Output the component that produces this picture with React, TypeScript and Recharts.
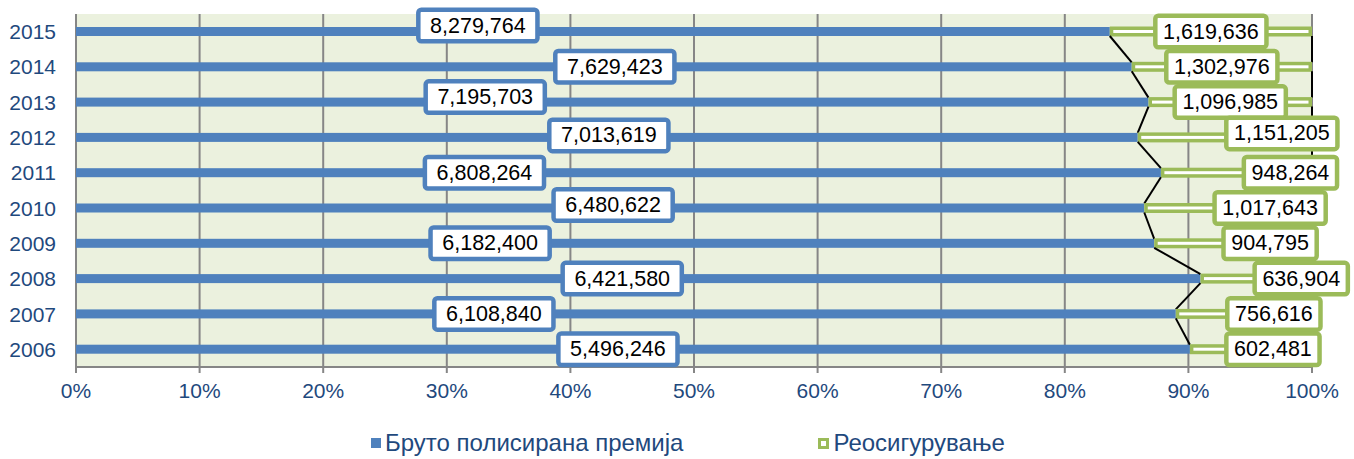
import React from 'react';
import { BarChart, Bar, XAxis, YAxis, CartesianGrid, LabelList } from 'recharts';

const years = ['2015', '2014', '2013', '2012', '2011', '2010', '2009', '2008', '2007', '2006'];
const premium = [8279764, 7629423, 7195703, 7013619, 6808264, 6480622, 6182400, 6421580, 6108840, 5496246];
const reinsurance = [1619636, 1302976, 1096985, 1151205, 948264, 1017643, 904795, 636904, 756616, 602481];
const xTicks = [0, 0.1, 0.2, 0.3, 0.4, 0.5, 0.6, 0.7, 0.8, 0.9, 1];
const seriesNames = ['Бруто полисирана премија', 'Реосигурување'];

// manual label placement (as in the source chart), offsets in px from the segment centre
const blueLabelNudge = [[-115, -6], [11, 0], [-127, -5], [2, -2], [-134, 0], [3, -3], [-125, 0], [-16, 0], [-132, 0], [-15, 0]];
const greenLabelNudge = [[0, 0], [0, 0], [0, 0], [57, -4], [54, 0], [42, 0], [37, 0], [45, 0], [30, 0], [22, 0]];

const data = years.map((y, i) => ({ year: y, premium: premium[i], reins: reinsurance[i] }));

const BLUE = '#4F81BD';
const GREEN = '#9BBB59';
const FONT = '"Liberation Sans", Arial, sans-serif';
const TEXT_BLUE = '#1F497D';

const blueRects: Record<number, { x: number; y: number; width: number; height: number }> = {};

const fmt = (v: number) => v.toLocaleString('en-US');

const textWidth = (s: string, fs: number) => {
  let w = 0;
  for (const c of s) w += c === ',' ? 0.278 : 0.556;
  return w * fs;
};

const BlueShape = (props: any) => {
  const { x, y, width, height, index } = props;
  blueRects[index] = { x, y, width, height };
  return <rect x={x} y={y} width={Math.max(0, width)} height={height} fill={BLUE} />;
};

const GreenShape = (props: any) => {
  const { x, y, width, height, index } = props;
  const a = blueRects[index];
  const b = blueRects[index + 1];
  return (
    <g>
      <rect x={x} y={y - 0.5} width={width} height={height + 1} fill={GREEN} />
      <rect x={x + 3.5} y={y + 3} width={Math.max(0, width - 7)} height={Math.max(0, height - 6)} fill="#FFFFFF" />
      {a && b && (
        <>
          <line x1={a.x + a.width} y1={a.y + a.height} x2={b.x + b.width} y2={b.y} stroke="#000" strokeWidth={2} />
          <line x1={x + width} y1={y + height} x2={x + width} y2={b.y} stroke="#000" strokeWidth={2} />
        </>
      )}
    </g>
  );
};

const makeLabel = (values: number[], nudge: number[][], color: string, pad: number) => (props: any) => {
  const vb = props.viewBox || {};
  const x = props.x ?? vb.x;
  const y = props.y ?? vb.y;
  const width = props.width ?? vb.width;
  const height = props.height ?? vb.height;
  const index = props.index;
  if (index == null || x == null) return null;
  const txt = fmt(values[index]);
  const fs = 21.5;
  const cx = x + width / 2 + nudge[index][0];
  const cy = y + height / 2 + nudge[index][1];
  const W = textWidth(txt, fs) + pad;
  const H = 36;
  const sw = 4.5;
  return (
    <g>
      <rect x={cx - W / 2 + sw / 2} y={cy - H / 2 + sw / 2} width={W - sw} height={H - sw} rx={3} ry={3} fill="#FFFFFF" stroke={color} strokeWidth={sw} />
      <text x={cx} y={cy} textAnchor="middle" dominantBaseline="central" fontFamily={FONT} fontSize={fs} fill="#000">
        {txt}
      </text>
    </g>
  );
};

const BlueLabel = makeLabel(premium, blueLabelNudge, BLUE, 28);
const GreenLabel = makeLabel(reinsurance, greenLabelNudge, GREEN, 20);

export default function App() {
  return (
    <div style={{ position: 'absolute', left: 0, top: 0, width: 1354, height: 459, background: '#FFFFFF' }}>
      <BarChart
        width={1354}
        height={459}
        data={data}
        layout="vertical"
        stackOffset="expand"
        barSize={9}
        margin={{ top: 14, right: 42, left: 0, bottom: 52 }}
      >
        <CartesianGrid horizontal={false} vertical stroke="#868686" strokeWidth={2} fill="#EBF1DE" />
        <XAxis
          type="number"
          domain={[0, 1]}
          ticks={xTicks}
          interval={0}
          tickFormatter={(v: number) => `${Math.round(v * 100)}%`}
          axisLine={{ stroke: '#868686', strokeWidth: 2 }}
          tickLine={{ stroke: '#868686', strokeWidth: 2 }}
          tickSize={6}
          tickMargin={10}
          height={40}
          tick={{ fill: TEXT_BLUE, fontSize: 21, fontFamily: FONT }}
        />
        <YAxis
          type="category"
          dataKey="year"
          width={76}
          axisLine={false}
          tickLine={false}
          tickSize={0}
          tickMargin={20}
          tick={{ fill: TEXT_BLUE, fontSize: 21, fontFamily: FONT }}
        />
        <Bar dataKey="premium" stackId="a" fill={BLUE} shape={BlueShape} isAnimationActive={false}>
          <LabelList content={BlueLabel} />
        </Bar>
        <Bar dataKey="reins" stackId="a" fill={GREEN} shape={GreenShape} isAnimationActive={false}>
          <LabelList content={GreenLabel} />
        </Bar>
      </BarChart>
      <div
        style={{
          position: 'absolute',
          left: 371,
          top: 429,
          display: 'flex',
          alignItems: 'center',
          fontFamily: FONT,
          fontSize: 24,
          color: TEXT_BLUE,
          whiteSpace: 'nowrap',
          lineHeight: '28px',
        }}
      >
        <span style={{ display: 'inline-block', width: 10, height: 10, background: BLUE, marginRight: 4 }} />
        <span>{seriesNames[0]}</span>
        <span
          style={{
            display: 'inline-block',
            width: 5,
            height: 5,
            border: `3px solid ${GREEN}`,
            background: '#fff',
            marginLeft: 135,
            marginRight: 4,
          }}
        />
        <span>{seriesNames[1]}</span>
      </div>
    </div>
  );
}
